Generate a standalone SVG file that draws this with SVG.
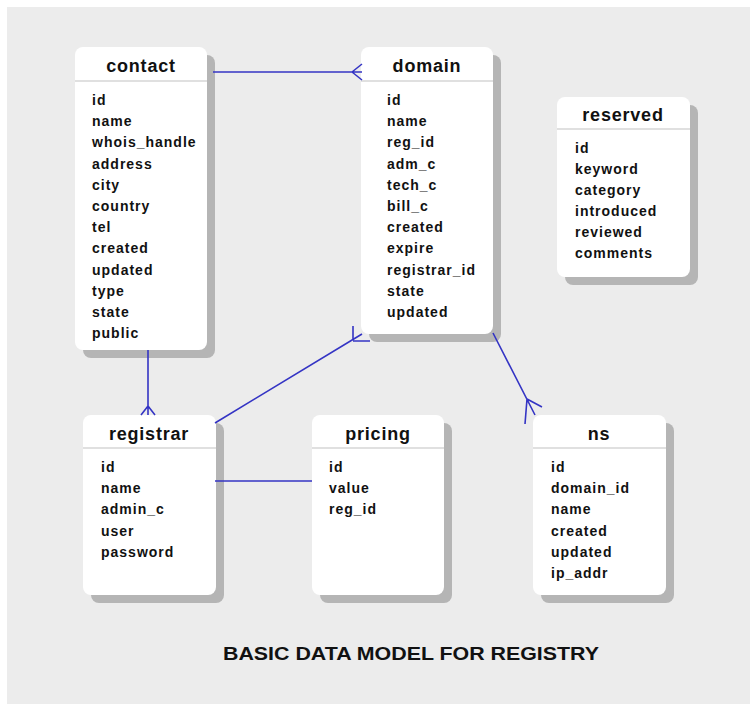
<svg xmlns="http://www.w3.org/2000/svg" width="750" height="704" viewBox="0 0 750 704">
  <defs>
    <style>
      .shadow { fill: #b5b5b5; }
      .card { fill: #ffffff; }
      .sep { stroke: #d6d6d6; stroke-width: 1.5; }
      .title { font-family: "Liberation Sans", Arial, sans-serif; font-weight: bold; font-size: 18px; letter-spacing: 0.8px; fill: #111111; text-anchor: middle; }
      .field { font-family: "Liberation Sans", Arial, sans-serif; font-weight: bold; font-size: 14px; letter-spacing: 1px; fill: #111111; }
      .link { stroke: #3434c4; stroke-width: 1.6; fill: none; }
      .caption { font-family: "Liberation Sans", Arial, sans-serif; font-weight: bold; font-size: 18px; fill: #111111; text-anchor: middle; }
    </style>
  </defs>

  <!-- page -->
  <rect x="0" y="0" width="750" height="704" fill="#ffffff"/>
  <rect x="7" y="7" width="743" height="697" fill="#ececec"/>

  <!-- contact -->
  <g id="contact">
    <rect class="shadow" x="83" y="55" width="132" height="303" rx="8"/>
    <rect class="card" x="75" y="47" width="132" height="303" rx="8"/>
    <line class="sep" x1="75" y1="81" x2="207" y2="81"/>
    <text class="title" x="141" y="72">contact</text>
    <text class="field" x="92" y="105">id</text>
    <text class="field" x="92" y="126.2">name</text>
    <text class="field" x="92" y="147.4">whois_handle</text>
    <text class="field" x="92" y="168.6">address</text>
    <text class="field" x="92" y="189.8">city</text>
    <text class="field" x="92" y="211">country</text>
    <text class="field" x="92" y="232.2">tel</text>
    <text class="field" x="92" y="253.4">created</text>
    <text class="field" x="92" y="274.6">updated</text>
    <text class="field" x="92" y="295.8">type</text>
    <text class="field" x="92" y="317">state</text>
    <text class="field" x="92" y="338.2">public</text>
  </g>

  <!-- domain -->
  <g id="domain">
    <rect class="shadow" x="369" y="55" width="132" height="287" rx="8"/>
    <rect class="card" x="361" y="47" width="132" height="287" rx="8"/>
    <line class="sep" x1="361" y1="81" x2="493" y2="81"/>
    <text class="title" x="427" y="72">domain</text>
    <text class="field" x="387" y="105">id</text>
    <text class="field" x="387" y="126.2">name</text>
    <text class="field" x="387" y="147.4">reg_id</text>
    <text class="field" x="387" y="168.6">adm_c</text>
    <text class="field" x="387" y="189.8">tech_c</text>
    <text class="field" x="387" y="211">bill_c</text>
    <text class="field" x="387" y="232.2">created</text>
    <text class="field" x="387" y="253.4">expire</text>
    <text class="field" x="387" y="274.6">registrar_id</text>
    <text class="field" x="387" y="295.8">state</text>
    <text class="field" x="387" y="317">updated</text>
  </g>

  <!-- reserved -->
  <g id="reserved">
    <rect class="shadow" x="565" y="105" width="133" height="180" rx="8"/>
    <rect class="card" x="557" y="97" width="133" height="180" rx="8"/>
    <line class="sep" x1="557" y1="129" x2="690" y2="129"/>
    <text class="title" x="623" y="121">reserved</text>
    <text class="field" x="575" y="153">id</text>
    <text class="field" x="575" y="174">keyword</text>
    <text class="field" x="575" y="195">category</text>
    <text class="field" x="575" y="216">introduced</text>
    <text class="field" x="575" y="237">reviewed</text>
    <text class="field" x="575" y="258">comments</text>
  </g>

  <!-- registrar -->
  <g id="registrar">
    <rect class="shadow" x="91" y="423" width="133" height="180" rx="8"/>
    <rect class="card" x="83" y="415" width="133" height="180" rx="8"/>
    <line class="sep" x1="83" y1="448" x2="216" y2="448"/>
    <text class="title" x="149" y="440">registrar</text>
    <text class="field" x="101" y="472">id</text>
    <text class="field" x="101" y="493.2">name</text>
    <text class="field" x="101" y="514.4">admin_c</text>
    <text class="field" x="101" y="535.6">user</text>
    <text class="field" x="101" y="556.8">password</text>
  </g>

  <!-- pricing -->
  <g id="pricing">
    <rect class="shadow" x="320" y="423" width="132" height="180" rx="8"/>
    <rect class="card" x="312" y="415" width="132" height="180" rx="8"/>
    <line class="sep" x1="312" y1="448" x2="444" y2="448"/>
    <text class="title" x="378" y="440">pricing</text>
    <text class="field" x="329" y="472">id</text>
    <text class="field" x="329" y="493.2">value</text>
    <text class="field" x="329" y="514.4">reg_id</text>
  </g>

  <!-- ns -->
  <g id="ns">
    <rect class="shadow" x="541" y="423" width="133" height="180" rx="8"/>
    <rect class="card" x="533" y="415" width="133" height="180" rx="8"/>
    <line class="sep" x1="533" y1="448" x2="666" y2="448"/>
    <text class="title" x="599" y="440">ns</text>
    <text class="field" x="551" y="472">id</text>
    <text class="field" x="551" y="493.2">domain_id</text>
    <text class="field" x="551" y="514.4">name</text>
    <text class="field" x="551" y="535.6">created</text>
    <text class="field" x="551" y="556.8">updated</text>
    <text class="field" x="551" y="578">ip_addr</text>
  </g>

  <!-- connectors, drawn over the card shadows -->
  <g id="connectors">
    <!-- contact to domain -->
    <path class="link" d="M213,72 H362 M352,72 L362,64 M352,72 L362,80"/>
    <!-- contact to registrar -->
    <path class="link" d="M148,350 V415 M148,406 L141,415 M148,406 L155,415"/>
    <!-- registrar to domain -->
    <path class="link" d="M215,423 L362,334 M353,340 L353,326 M353,341 L370,341"/>
    <!-- registrar to pricing -->
    <path class="link" d="M215,481 H312"/>
    <!-- domain to ns -->
    <path class="link" d="M493,333 L535,415 M527,399 L525,424 M527,399 L542,407"/>
  </g>

  <!-- caption -->
  <text class="caption" x="411" y="660" textLength="376" lengthAdjust="spacingAndGlyphs">BASIC DATA MODEL FOR REGISTRY</text>
</svg>
